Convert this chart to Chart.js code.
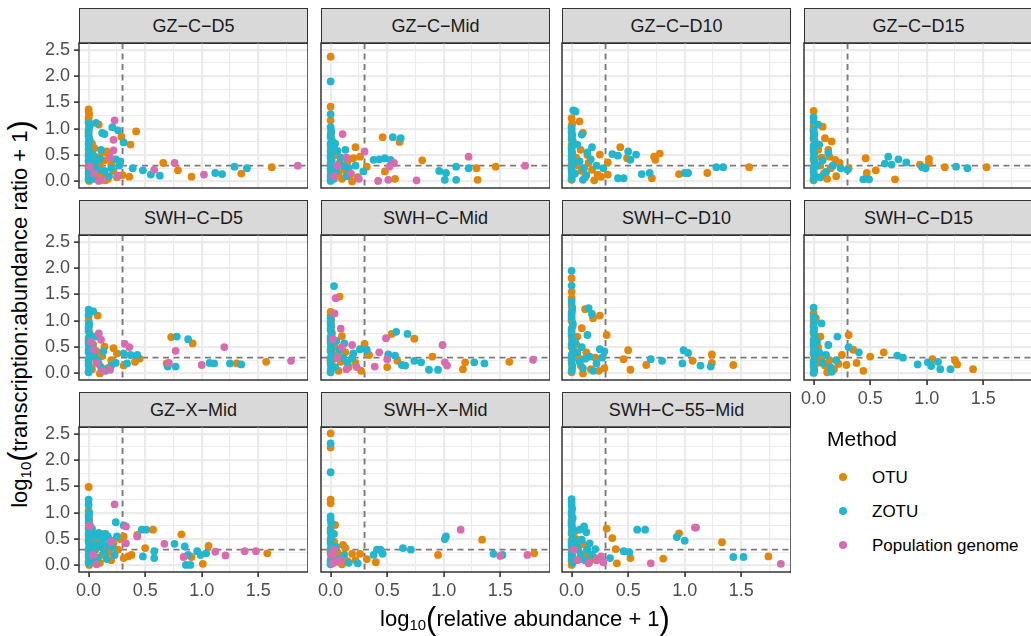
<!DOCTYPE html>
<html>
<head>
<meta charset="utf-8">
<script src="https://cdn.jsdelivr.net/npm/chart.js@4.4.0/dist/chart.umd.min.js"></script>
<style>
  body { margin: 0; background: #fff; width: 1031px; height: 636px; overflow: hidden; position: relative;
         font-family: "Liberation Sans", Arial, sans-serif; }
  canvas { position: absolute; }
  .strip { position: absolute; box-sizing: border-box; background: #D9D9D9; border: 1px solid #333;
           color: #1A1A1A; font-size: 18px; text-align: center; }
  .title { position: absolute; white-space: nowrap; font-size: 22px; color: #000; line-height: 1; }
  .title sub { font-size: 0.68em; vertical-align: -0.28em; line-height: 0; }
  .title .par { font-size: 1.4em; vertical-align: -0.1em; }
  .legend { position: absolute; white-space: nowrap; line-height: 1; color: #000; }
  .dot { position: absolute; width: 8px; height: 8px; border-radius: 50%; }
</style>
</head>
<body>
<script>
/* ---------- données ---------- */
const methods = ["OTU", "ZOTU", "Population genome"];
const methodColors = ["#E3870A", "#22B6CF", "#D96CAF"];
const threshold = 0.3;
const xMajor = [0, 0.5, 1, 1.5];
const xGrid = [0, 0.25, 0.5, 0.75, 1, 1.25, 1.5, 1.75];
const yMajor = [0, 0.5, 1, 1.5, 2, 2.5];
const yGrid = [0, 0.25, 0.5, 0.75, 1, 1.25, 1.5, 1.75, 2, 2.25, 2.5];
const xRange = [-0.085, 1.94];
const yRange = [-0.125, 2.63];

const panelNames = ["GZ-C-D5", "GZ-C-Mid", "GZ-C-D10", "GZ-C-D15",
                    "SWH-C-D5", "SWH-C-Mid", "SWH-C-D10", "SWH-C-D15",
                    "GZ-X-Mid", "SWH-X-Mid", "SWH-C-55-Mid"];

const gzCD5_otu = [[0,1.37],[0,1.32],[0.005,1.27],[0,1.2],[0,1.14],[0.01,1.06],[0,0.98],[0,0.9],[0.005,0.82],[0,0.74],[0.01,0.67],[0,0.6],[0,0.52],[0.005,0.44],[0,0.37],[0,0.29],[0.01,0.21],[0,0.13],[0,0.06],[0.005,0.01],
  [0.03,0.72],[0.05,0.63],[0.09,1.08],[0.07,0.46],[0.1,0.31],[0.12,0.55],[0.16,0.57],[0.18,0.5],[0.2,0.33],[0.22,0.2],[0.25,0.08],[0.13,0.15],[0.08,0.1],[0.04,0.25],[0.06,0.38],[0.14,0.4],[0.17,0.05],
  [0.29,0.85],[0.37,0.7],[0.42,0.95],[0.36,0.09],[0.3,0.12],[0.15,0.02],[0.66,0.35],[0.79,0.21],[0.91,0.09],[1.35,0.15],[1.62,0.27]];
const gzCD5_zotu = [[0,1.1],[0.005,1.02],[0,0.94],[0,0.86],[0.01,0.78],[0,0.7],[0,0.63],[0.005,0.55],[0,0.48],[0,0.4],[0.01,0.33],[0,0.26],[0,0.18],[0.005,0.1],[0,0.03],
  [0.065,1.11],[0.12,0.92],[0.14,0.9],[0.21,1.03],[0.26,0.97],[0.31,0.74],[0.04,0.5],[0.06,0.35],[0.1,0.43],[0.14,0.2],[0.18,0.1],[0.24,0.42],[0.27,0.3],[0.28,0.38],[0.05,0.05],[0.11,0.6],[0.08,0.22],[0.03,0.15],[0.2,0.25],
  [0.39,0.25],[0.48,0.21],[0.55,0.13],[0.63,0.11],[1.12,0.16],[1.18,0.14],[1.29,0.28],[1.4,0.25]];
const gzCD5_pop = [[0.23,1.16],[0.22,0.79],[0.22,0.59],[0.26,0.11],[0.58,0.22],[0.76,0.35],[1.02,0.13],[1.85,0.3],[0.12,0.03],[0.19,0.45],[0.05,0.15],[0.01,0.28],[0.09,0.01]];

const gzCMid_otu = [[0,2.37],[0,1.42],[0,1.16],[0.005,0.92],[0,0.84],[0.01,0.76],[0,0.68],[0,0.6],[0.005,0.52],[0,0.44],[0,0.36],[0.01,0.28],[0,0.2],[0,0.12],[0.005,0.05],
  [0.03,0.62],[0.05,0.5],[0.08,0.35],[0.12,0.22],[0.15,0.38],[0.22,0.65],[0.26,0.47],[0.2,0.44],[0.32,0.28],[0.17,0.12],[0.1,0.05],[0.24,0.08],[0.07,0.15],
  [0.46,0.84],[0.61,0.75],[0.48,0.19],[0.57,0.05],[0.19,0],[0.81,0.4],[1.29,0.25],[1.3,0.03],[1.46,0.28]];
const gzCMid_zotu = [[0,1.9],[0,1.28],[0,1.03],[0.005,0.96],[0,0.88],[0.01,0.8],[0,0.72],[0.005,0.64],[0,0.56],[0,0.48],[0.01,0.4],[0,0.32],[0,0.24],[0.005,0.16],[0,0.08],[0,0.01],
  [0.04,0.72],[0.06,0.58],[0.13,0.6],[0.09,0.45],[0.11,0.3],[0.16,0.25],[0.05,0.2],[0.29,0.19],[0.22,0.3],[0.14,0.1],[0.03,0.05],
  [0.38,0.41],[0.43,0.42],[0.48,0.44],[0.53,0.41],[0.55,0.84],[0.62,0.82],[0.96,0.2],[1.02,0.16],[1.01,0.03],[1.11,0.28],[1.11,0.03],[1.22,0.25]];
const gzCMid_pop = [[0.106,0.9],[0.3,0.57],[0.56,0.35],[0.52,0.28],[0.42,0.01],[0.51,0.03],[0.76,0.02],[1.22,0.47],[1.72,0.3],[0.06,0.3],[0.14,0.45],[0.18,0.15],[0.03,0.1],[0.25,0.05]];

const gzCD10_otu = [[0,1.2],[0.07,1.14],[0,0.92],[0.1,0.92],[0.005,1.1],[0,1.05],[0,0.85],[0.01,0.78],[0,0.7],[0,0.62],[0.005,0.55],[0,0.48],[0.01,0.4],[0,0.33],[0,0.26],[0.005,0.18],[0,0.1],[0,0.03],
  [0.04,0.45],[0.06,0.3],[0.09,0.2],[0.12,0.08],[0.15,0.35],[0.18,0.22],[0.08,0.6],[0.2,0.02],[0.14,0.5],
  [0.25,0.51],[0.43,0.65],[0.49,0.44],[0.73,0.47],[0.74,0.41],[0.78,0.53],[0.32,0.36],[0.23,0.13],[0.26,0.09],[0.32,0.13],[0.71,0.06],[0.95,0.14],[1.2,0.16],[1.57,0.27]];
const gzCD10_zotu = [[0.015,1.35],[0.035,1.33],[0,1.01],[0.09,0.89],[0,0.95],[0.005,0.88],[0,0.8],[0.01,0.72],[0,0.64],[0,0.56],[0.005,0.5],[0,0.42],[0.01,0.35],[0,0.28],[0,0.2],[0.005,0.12],[0,0.05],
  [0.05,0.7],[0.07,0.38],[0.11,0.25],[0.13,0.12],[0.17,0.42],[0.22,0.3],[0.1,0.03],[0.03,0.15],
  [0.18,0.65],[0.14,0.55],[0.36,0.52],[0.41,0.49],[0.5,0.57],[0.57,0.51],[0.52,0.41],[0.28,0.25],[0.41,0.06],[0.46,0.06],[0.62,0.14],[0.69,0.16],[1,0.16],[1.03,0.16],[1.28,0.27],[1.34,0.27]];
const gzCD10_pop = [];

const gzCD15_otu = [[0,1.34],[0.08,1.04],[0.1,0.82],[0.16,0.76],[0,1.05],[0,0.95],[0.005,0.88],[0,0.8],[0.01,0.72],[0,0.64],[0,0.56],[0.005,0.48],[0,0.4],[0.01,0.32],[0,0.24],[0,0.16],[0.005,0.08],[0,0.02],
  [0.04,0.6],[0.06,0.3],[0.09,0.15],[0.12,0.05],[0.15,0.25],[0.2,0.1],[0.07,0.45],[0.13,0.6],
  [0.14,0.47],[0.19,0.41],[0.23,0.35],[0.31,0.25],[0.46,0.44],[0.47,0.16],[0.55,0.21],[0.72,0.04],[0.94,0.32],[1.02,0.43],[1.02,0.35],[1.16,0.27],[1.53,0.27]];
const gzCD15_zotu = [[0,1.22],[0,1.14],[0.04,1.08],[0,0.98],[0.005,0.9],[0,0.84],[0.01,0.76],[0,0.68],[0,0.6],[0.005,0.52],[0,0.44],[0.01,0.36],[0,0.28],[0,0.2],[0.005,0.12],[0,0.04],
  [0.05,0.7],[0.08,0.4],[0.11,0.18],[0.03,0.3],[0.17,0.3],[0.06,0.08],
  [0.13,0.54],[0.24,0.25],[0.3,0.22],[0.44,0.04],[0.49,0.04],[0.63,0.34],[0.66,0.47],[0.69,0.32],[0.75,0.42],[0.82,0.36],[0.96,0.27],[0.99,0.25],[1.26,0.28],[1.36,0.25]];
const gzCD15_pop = [];

const swhCD5_otu = [[0.08,1.1],[0,1.08],[0,1],[0.005,0.92],[0,0.84],[0.01,0.76],[0,0.68],[0,0.6],[0.005,0.52],[0,0.44],[0.01,0.36],[0,0.28],[0,0.2],[0.005,0.12],[0,0.04],
  [0.04,0.55],[0.06,0.3],[0.09,0.18],[0.12,0.33],[0.17,0.1],[0.2,0.25],[0.07,0.42],[0.03,0.08],
  [0.14,0.51],[0.22,0.48],[0.25,0.38],[0.45,0.28],[0.41,0.22],[0.31,0.15],[0.1,0],[0.73,0.69],[0.92,0.57],[0.69,0.19],[1.31,0.19],[1.57,0.22]];
const swhCD5_zotu = [[0,1.21],[0.04,1.18],[0,1.12],[0,0.89],[0.005,0.95],[0,0.8],[0.01,0.72],[0,0.64],[0,0.56],[0.005,0.48],[0,0.4],[0.01,0.32],[0,0.24],[0,0.16],[0.005,0.08],[0,0.02],
  [0.05,0.35],[0.08,0.25],[0.11,0.12],[0.15,0.05],[0.03,0.5],[0.24,0.2],[0.13,0.42],
  [0.06,0.7],[0.31,0.38],[0.37,0.35],[0.43,0.35],[0.34,0.19],[0.2,0.15],[0.78,0.7],[0.88,0.65],[0.77,0.13],[0.7,0.13],[1.07,0.2],[1.11,0.19],[1.25,0.19],[1.35,0.17]];
const swhCD5_pop = [[0.09,0.76],[0.11,0.64],[0.32,0.56],[0.36,0.5],[0.19,0.07],[0.77,0.43],[1.2,0.5],[0.71,0.2],[1,0.16],[1.79,0.24],[0.05,0.45],[0.02,0.6],[0.12,0.05],[0.07,0.2]];

const swhCMid_otu = [[0.08,1.46],[0,1.17],[0,1.1],[0.005,1.02],[0,0.94],[0,0.86],[0.01,0.78],[0,0.7],[0,0.62],[0.005,0.54],[0,0.46],[0.01,0.38],[0,0.3],[0,0.22],[0.005,0.14],[0,0.06],
  [0.04,0.5],[0.06,0.35],[0.09,0.22],[0.13,0.4],[0.16,0.12],[0.22,0.2],[0.07,0.05],[0.03,0.28],
  [0.1,0.71],[0.3,0.56],[0.34,0.35],[0.19,0.29],[0.59,0.24],[0.5,0.12],[0.27,0.05],[0.54,0.75],[0.74,0.66],[0.9,0.32],[1.19,0.21],[1.17,0.08],[1.58,0.22]];
const swhCMid_zotu = [[0.03,1.66],[0,1.05],[0,0.98],[0.005,0.9],[0,0.82],[0.01,0.74],[0,0.66],[0,0.58],[0.005,0.5],[0,0.42],[0.01,0.34],[0,0.26],[0,0.18],[0.005,0.1],[0,0.02],
  [0.05,0.62],[0.08,0.45],[0.11,0.3],[0.15,0.2],[0.04,0.12],[0.2,0.38],
  [0.12,0.57],[0.26,0.46],[0.32,0.45],[0.19,0.29],[0.51,0.36],[0.57,0.34],[0.63,0.16],[0.66,0.15],[0.58,0.79],[0.68,0.75],[0.74,0.24],[0.8,0.21],[0.87,0.07],[0.95,0.07],[1.27,0.21],[1.36,0.19]];
const swhCMid_pop = [[0.045,1.43],[0.035,1.14],[0.09,0.85],[0.19,0.54],[0.43,0.4],[0.5,0.27],[0.39,0.13],[0.49,0.67],[0.99,0.54],[1.01,0.21],[1.03,0.15],[1.79,0.26],[0.06,0.3],[0.14,0.08],[0.02,0.65],[0.1,0.5],[0.23,0.12]];

const swhCD10_otu = [[0,1.81],[0,1.55],[0,1.43],[0,1.3],[0.005,1.2],[0,1.1],[0,1],[0.01,0.9],[0,0.8],[0,0.7],[0.005,0.6],[0,0.5],[0.01,0.4],[0,0.3],[0,0.2],[0.005,0.1],[0,0.02],
  [0.04,0.55],[0.06,0.3],[0.08,0.15],[0.13,0.4],[0.17,0.08],[0.21,0.3],[0.05,0.7],[0.24,0.05],
  [0.12,1.22],[0.19,1.05],[0.25,1.1],[0.09,0.86],[0.31,0.73],[0.29,0.1],[0.1,0],[0.46,0.27],[0.5,0.44],[0.52,0.07],[0.66,0.16],[1.07,0.24],[1.24,0.36],[1.24,0.2],[1.43,0.16]];
const swhCD10_zotu = [[0,1.95],[0,1.67],[0,1.37],[0.005,1.25],[0,1.15],[0,1.05],[0.01,0.95],[0,0.85],[0,0.75],[0.005,0.65],[0,0.55],[0.01,0.45],[0,0.35],[0,0.25],[0.005,0.15],[0,0.05],
  [0.05,0.4],[0.07,0.22],[0.1,0.1],[0.12,0.28],[0.03,0.6],[0.19,0.05],[0.27,0.3],[0.09,0.5],
  [0.15,1.24],[0.18,1.13],[0.14,0.73],[0.25,0.46],[0.29,0.42],[0.16,0.32],[0.22,0.19],[0.7,0.27],[0.8,0.24],[0.99,0.44],[1.03,0.39],[0.98,0.19],[1.14,0.15],[1.23,0.13]];
const swhCD10_pop = [];

const swhCD15_otu = [[0,1.14],[0.02,1.05],[0,1],[0,0.92],[0.005,0.84],[0,0.76],[0.01,0.68],[0,0.6],[0,0.52],[0.005,0.44],[0,0.36],[0.01,0.28],[0,0.2],[0,0.12],[0.005,0.04],
  [0.04,0.5],[0.07,0.3],[0.1,0.15],[0.14,0.25],[0.18,0.08],[0.22,0.18],[0.06,0.7],[0.03,0.2],[0.12,0.02],
  [0.31,0.73],[0.35,0.45],[0.25,0.35],[0.5,0.32],[0.62,0.4],[0.38,0.2],[0.44,0.05],[0.29,0.16],[1.05,0.27],[1.25,0.25],[1.27,0.17],[1.41,0.08]];
const swhCD15_zotu = [[0,1.25],[0.07,0.95],[0,1.08],[0.005,0.98],[0,0.88],[0,0.8],[0.01,0.72],[0,0.64],[0,0.56],[0.005,0.48],[0,0.4],[0.01,0.32],[0,0.24],[0,0.16],[0.005,0.08],[0,0.01],
  [0.05,0.4],[0.08,0.2],[0.11,0.35],[0.15,0.12],[0.2,0.25],[0.03,0.6],[0.16,0.03],
  [0.21,0.7],[0.13,0.54],[0.31,0.5],[0.4,0.4],[0.74,0.34],[0.79,0.3],[0.92,0.17],[1.01,0.21],[1.1,0.22],[1.04,0.14],[1.12,0.08],[1.21,0.08]];
const swhCD15_pop = [];

const gzXMid_otu = [[0,1.49],[0,1.04],[0,0.96],[0.005,0.88],[0,0.8],[0,0.72],[0.01,0.64],[0,0.56],[0,0.48],[0.005,0.4],[0,0.32],[0.01,0.24],[0,0.16],[0,0.08],[0.005,0.01],
  [0.03,0.45],[0.06,0.3],[0.09,0.5],[0.12,0.2],[0.15,0.38],[0.18,0.25],[0.22,0.42],[0.26,0.3],[0.05,0.12],[0.1,0.05],[0.28,0.5],[0.2,0.1],[0.14,0.6],
  [0.31,0.55],[0.43,0.58],[0.57,0.68],[0.5,0.33],[0.35,0.17],[0.31,0.14],[0.38,0.2],[0.82,0.59],[0.91,0.16],[1.01,0.03],[1.06,0.37],[1.58,0.23]];
const gzXMid_zotu = [[0,1.25],[0,0.93],[0,1.15],[0.005,1],[0,0.85],[0.01,0.77],[0,0.69],[0,0.61],[0.005,0.53],[0,0.45],[0.01,0.37],[0,0.29],[0,0.21],[0.005,0.13],[0,0.05],
  [0.03,0.7],[0.05,0.6],[0.07,0.55],[0.09,0.62],[0.11,0.58],[0.13,0.52],[0.15,0.6],[0.17,0.55],[0.19,0.48],[0.21,0.35],[0.06,0.4],[0.1,0.35],[0.14,0.25],[0.08,0.15],[0.16,0.12],[0.23,0.2],[0.04,0.25],[0.12,0.42],[0.18,0.38],[0.02,0.08],[0.25,0.55],
  [0.24,0.82],[0.31,0.76],[0.47,0.68],[0.51,0.68],[0.58,0.27],[0.58,0.14],[0.48,0.17],[0.76,0.41],[0.85,0.36],[0.88,0.2],[0.86,0.01],[0.9,0.01],[0.96,0.27],[0.99,0.2],[1.04,0.23]];
const gzXMid_pop = [[0.23,1.16],[0.33,0.74],[0.43,0.55],[0.33,0.42],[0.67,0.41],[0.84,0.16],[1.12,0.26],[1.21,0.19],[1.38,0.27],[1.48,0.27],[0.01,0.75],[0.04,0.2],[0.2,0.45],[0.07,0.02]];

const swhXMid_otu = [[0,2.51],[0,2.24],[0,1.25],[0,1.18],[0.04,0.77],[0,0.7],[0,0.62],[0.005,0.54],[0,0.46],[0.01,0.38],[0,0.3],[0,0.22],[0.005,0.14],[0,0.06],
  [0.06,0.25],[0.08,0.15],[0.03,0.45],[0.15,0.08],[0.22,0.1],[0.1,0.02],
  [0.11,0.39],[0.13,0.33],[0.19,0.22],[0.26,0.22],[0.32,0.12],[0.4,0.06],[0.95,0.2],[1.34,0.49],[1.8,0.23]];
const swhXMid_zotu = [[0,2.32],[0,1.77],[0,0.93],[0,0.87],[0.005,0.8],[0,0.66],[0.01,0.58],[0,0.5],[0,0.42],[0.005,0.34],[0,0.26],[0.01,0.18],[0,0.1],[0,0.02],
  [0.05,0.35],[0.07,0.12],[0.12,0.2],[0.16,0.05],[0.03,0.6],
  [0.24,0.04],[0.38,0.2],[0.41,0.3],[0.44,0.3],[0.46,0.22],[0.64,0.33],[0.71,0.3],[1.01,0.5],[1.02,0.55],[1.44,0.22],[1.52,0.2]];
const swhXMid_pop = [[1.15,0.68],[1.5,0.18],[1.74,0.2],[0.02,0.04],[0.06,0.07],[0.01,0.2],[0.09,0.1],[0.03,0.3]];

const swhC55Mid_otu = [[0,0.87],[0,0.8],[0.005,0.72],[0,0.64],[0.01,0.56],[0,0.48],[0,0.4],[0.005,0.32],[0,0.24],[0.01,0.16],[0,0.08],[0,0.01],
  [0.04,0.5],[0.06,0.3],[0.08,0.12],[0.1,0.4],[0.16,0.08],[0.2,0.15],[0.03,0.65],
  [0.31,0.7],[0.36,0.52],[0.39,0.31],[0.52,0.14],[0.4,0.04],[0.13,0.2],[0.81,0.13],[0.95,0.61],[1.33,0.44],[1.74,0.17]];
const swhC55Mid_zotu = [[0,1.26],[0,1.2],[0,1.14],[0.005,1.08],[0,1.02],[0,0.96],[0.01,0.9],[0,0.83],[0,0.76],[0.005,0.68],[0,0.6],[0.01,0.52],[0,0.44],[0,0.36],[0.005,0.28],[0,0.2],[0,0.12],[0.01,0.05],
  [0.05,0.35],[0.08,0.22],[0.12,0.1],[0.18,0.2],[0.03,0.42],[0.14,0.3],
  [0.11,0.74],[0.13,0.63],[0.07,0.68],[0.09,0.49],[0.16,0.42],[0.21,0.31],[0.46,0.27],[0.51,0.25],[0.34,0.14],[0.58,0.68],[0.65,0.68],[0.93,0.54],[1,0.47],[1.43,0.16],[1.52,0.16]];
const swhC55Mid_pop = [[0.26,0.17],[0.28,0.06],[0.15,0.04],[0.7,0.04],[1.09,0.72],[1.1,0.72],[1.85,0.03],[0.05,0.1],[0.22,0.1],[0.02,0.3]];

const panelData = [
  [gzCD5_otu, gzCD5_zotu, gzCD5_pop], [gzCMid_otu, gzCMid_zotu, gzCMid_pop],
  [gzCD10_otu, gzCD10_zotu, gzCD10_pop], [gzCD15_otu, gzCD15_zotu, gzCD15_pop],
  [swhCD5_otu, swhCD5_zotu, swhCD5_pop], [swhCMid_otu, swhCMid_zotu, swhCMid_pop],
  [swhCD10_otu, swhCD10_zotu, swhCD10_pop], [swhCD15_otu, swhCD15_zotu, swhCD15_pop],
  [gzXMid_otu, gzXMid_zotu, gzXMid_pop], [swhXMid_otu, swhXMid_zotu, swhXMid_pop],
  [swhC55Mid_otu, swhC55Mid_zotu, swhC55Mid_pop]
];

/* ---------- mise en page ---------- */
const colLeft = [79, 321, 562, 804];
const rowTop = [8, 200, 392];
const STRIP_H = 35, PLOT_W = 229, PLOT_H = 145;
const AXIS_L = 40, AXIS_B = 28, PAD = 12;
const FONT = "'Liberation Sans', Arial, sans-serif";

const isMajor = v => Math.abs(v * 2 - Math.round(v * 2)) < 1e-9;

/* lignes de seuil (sous les points) + cadre du panneau */
const panelDeco = {
  id: "panelDeco",
  beforeDatasetsDraw(chart) {
    const { ctx, chartArea: a, scales: { x, y } } = chart;
    ctx.save();
    ctx.beginPath();
    ctx.rect(a.left, a.top, a.width, a.height);
    ctx.clip();
    ctx.strokeStyle = "#7F7878";
    ctx.lineWidth = 1.9;
    ctx.setLineDash([6, 4.5]);
    const px = x.getPixelForValue(threshold);
    ctx.beginPath(); ctx.moveTo(px, a.top); ctx.lineTo(px, a.bottom); ctx.stroke();
    const py = y.getPixelForValue(threshold);
    ctx.beginPath(); ctx.moveTo(a.left, py); ctx.lineTo(a.right, py); ctx.stroke();
    ctx.restore();
  },
  afterDraw(chart) {
    const { ctx, chartArea: a } = chart;
    ctx.save();
    ctx.strokeStyle = "#333333";
    ctx.lineWidth = 1.5;
    ctx.strokeRect(a.left, a.top, a.width, a.height);
    ctx.restore();
  }
};

function renderPanel(i) {
  const col = i % 4, row = Math.floor(i / 4);
  const showY = col === 0;
  const showX = row === 2 || i === 7;
  const left = colLeft[col], top = rowTop[row];

  const strip = document.createElement("div");
  strip.className = "strip";
  strip.style.left = left + "px";
  strip.style.top = top + "px";
  strip.style.width = PLOT_W + "px";
  strip.style.height = (STRIP_H + 1) + "px";
  strip.style.lineHeight = (STRIP_H - 1) + "px";
  strip.textContent = panelNames[i].replace(/-/g, "\u2212");
  document.body.appendChild(strip);

  const canvas = document.createElement("canvas");
  const w = PLOT_W + AXIS_L, h = PAD + PLOT_H + (showX ? AXIS_B : 0) + PAD;
  canvas.width = w; canvas.height = h;
  canvas.style.width = w + "px"; canvas.style.height = h + "px";
  canvas.style.left = (left - AXIS_L) + "px";
  canvas.style.top = (top + STRIP_H - PAD) + "px";
  document.body.appendChild(canvas);

  const sets = [2, 1, 0].map(m => ({
    label: methods[m],
    data: panelData[i][m].map(p => ({ x: p[0], y: p[1] })),
    backgroundColor: methodColors[m],
    borderWidth: 0,
    pointRadius: 3.9,
    pointHoverRadius: 3.9
  }));

  new Chart(canvas, {
    type: "scatter",
    data: { datasets: sets },
    options: {
      responsive: false,
      animation: false,
      events: [],
      layout: { padding: { top: PAD, bottom: PAD, left: 0, right: 0 }, autoPadding: false },
      plugins: { legend: { display: false }, tooltip: { enabled: false } },
      scales: {
        x: {
          type: "linear", min: xRange[0], max: xRange[1],
          afterBuildTicks: s => { s.ticks = xGrid.map(v => ({ value: v })); },
          afterFit: s => { s.height = showX ? AXIS_B : 0; s.paddingLeft = 0; s.paddingRight = 0; },
          ticks: {
            display: showX, autoSkip: false, maxRotation: 0, padding: 3,
            color: "#4D4D4D", font: { size: 18, family: FONT },
            callback: v => xMajor.includes(v) ? v.toFixed(1) : ""
          },
          grid: {
            color: "#EBEBEB",
            lineWidth: c => isMajor(c.tick.value) ? 2.2 : 1.1,
            drawTicks: showX, tickLength: 5, tickWidth: 1.6,
            tickColor: c => isMajor(c.tick.value) ? "#333333" : "rgba(0,0,0,0)"
          },
          border: { display: false }
        },
        y: {
          type: "linear", min: yRange[0], max: yRange[1],
          afterBuildTicks: s => { s.ticks = yGrid.map(v => ({ value: v })); },
          afterFit: s => { s.width = AXIS_L; s.paddingTop = 0; s.paddingBottom = 0; },
          ticks: {
            display: showY, autoSkip: false, padding: 4,
            color: "#4D4D4D", font: { size: 18, family: FONT },
            callback: v => yMajor.includes(v) ? v.toFixed(1) : ""
          },
          grid: {
            color: "#EBEBEB",
            lineWidth: c => isMajor(c.tick.value) ? 2.2 : 1.1,
            drawTicks: showY, tickLength: 5, tickWidth: 1.6,
            tickColor: c => isMajor(c.tick.value) ? "#333333" : "rgba(0,0,0,0)"
          },
          border: { display: false }
        }
      }
    },
    plugins: [panelDeco]
  });
}

panelNames.forEach((n, i) => renderPanel(i));

/* ---------- titres des axes ---------- */
const yTitle = document.createElement("div");
yTitle.className = "title";
yTitle.innerHTML = 'log<sub>10</sub><span class="par">(</span>transcription:abundance ratio + 1<span class="par">)</span>';
yTitle.style.left = "20px"; yTitle.style.top = "314px";
yTitle.style.transform = "translate(-50%, -50%) rotate(-90deg)";
document.body.appendChild(yTitle);

const xTitle = document.createElement("div");
xTitle.className = "title";
xTitle.innerHTML = 'log<sub>10</sub><span class="par">(</span>relative abundance + 1<span class="par">)</span>';
xTitle.style.left = "525px"; xTitle.style.top = "619px";
xTitle.style.transform = "translate(-50%, -50%)";
document.body.appendChild(xTitle);

/* ---------- légende ---------- */
const legTitle = document.createElement("div");
legTitle.className = "legend";
legTitle.style.fontSize = "21px";
legTitle.style.left = "827px"; legTitle.style.top = "428px";
legTitle.textContent = "Method";
document.body.appendChild(legTitle);

methods.forEach((m, k) => {
  const cy = 477 + k * 34.2;
  const dot = document.createElement("div");
  dot.className = "dot";
  dot.style.background = methodColors[k];
  dot.style.left = (843 - 4) + "px"; dot.style.top = (cy - 4) + "px";
  document.body.appendChild(dot);
  const lab = document.createElement("div");
  lab.className = "legend";
  lab.style.fontSize = "17px";
  lab.style.left = "872px"; lab.style.top = (cy + 5.5 - 14) + "px";
  lab.textContent = m;
  document.body.appendChild(lab);
});
</script>
</body>
</html>
